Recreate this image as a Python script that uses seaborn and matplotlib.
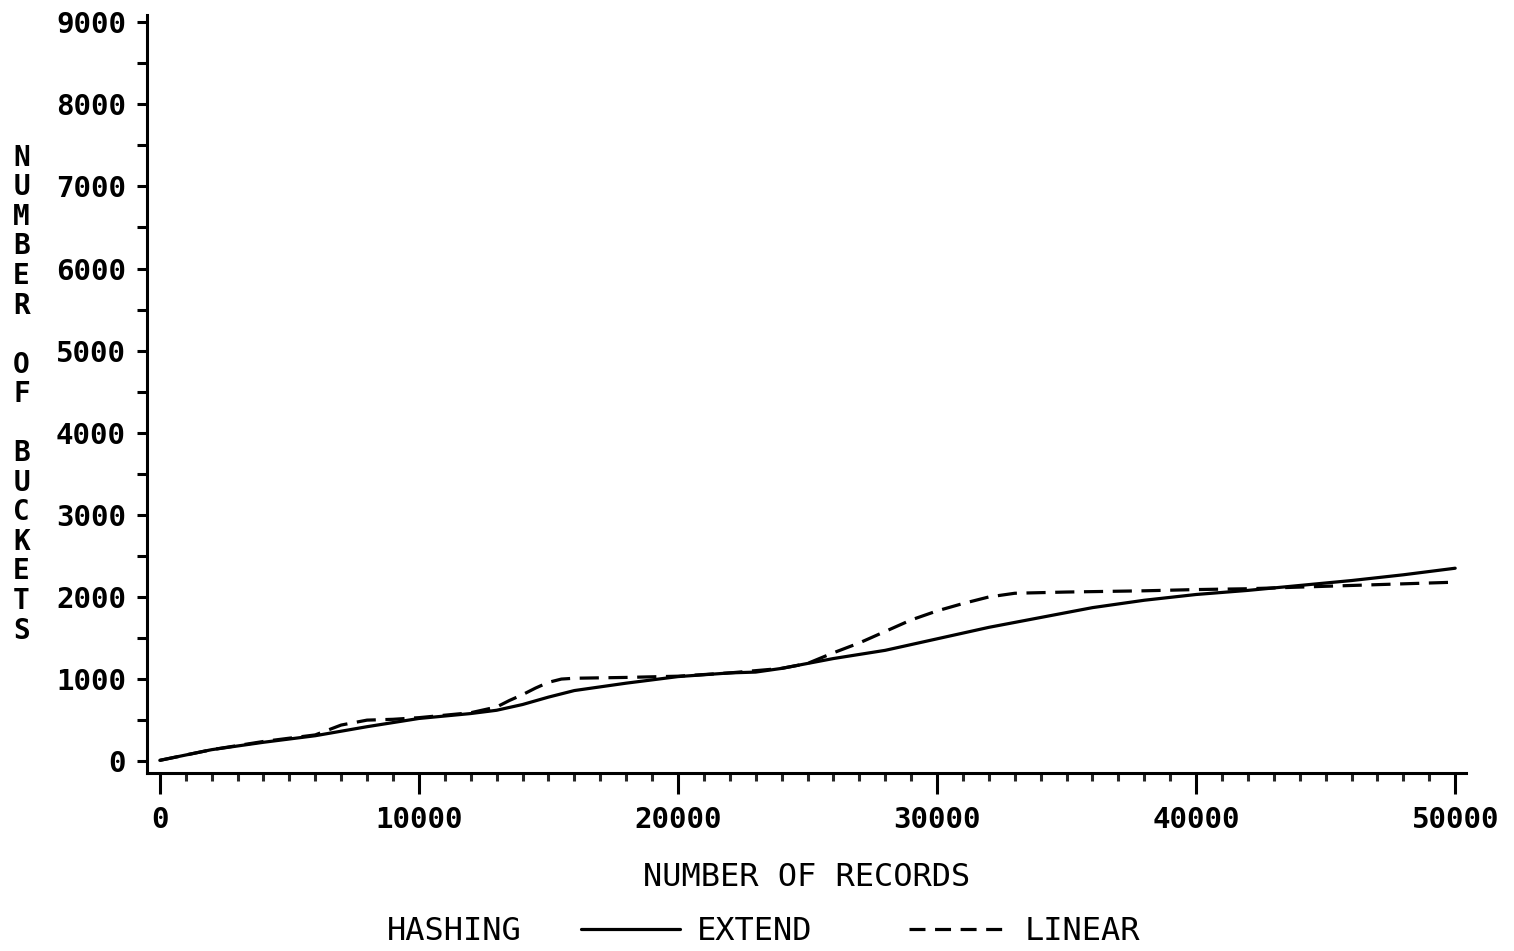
import numpy as np
import pandas as pd
import matplotlib
matplotlib.use('Agg')
import matplotlib.pyplot as plt
from matplotlib.ticker import MultipleLocator
import seaborn as sns

# Values
extend_x = [0, 2000, 4000, 6000, 8000, 10000, 12000, 13000, 14000, 15000, 16000,
            18000, 20000, 22000, 23000, 24000, 25000, 26000, 27000, 28000, 29000,
            30000, 31000, 32000, 33000, 34000, 36000, 38000, 40000, 42000, 44000,
            46000, 48000, 50000]
extend_y = [10, 140, 230, 310, 420, 520, 580, 620, 690, 780, 860,
            950, 1030, 1075, 1085, 1130, 1190, 1250, 1300, 1350, 1420,
            1490, 1560, 1630, 1690, 1750, 1870, 1960, 2030, 2080, 2140,
            2200, 2270, 2350]

linear_x = [0, 2000, 4000, 6000, 7000, 8000, 9000, 10000, 12000, 13000, 13500,
            14000, 14500, 15000, 15500, 16000, 18000, 20000, 22000, 24000, 25000,
            26000, 27000, 28000, 29000, 30000, 31000, 32000, 33000, 35000, 38000,
            40000, 42000, 44000, 46000, 48000, 50000]
linear_y = [10, 140, 240, 320, 440, 500, 510, 530, 590, 660, 740,
            810, 890, 960, 1000, 1010, 1020, 1035, 1075, 1130, 1190,
            1320, 1440, 1580, 1720, 1830, 1920, 2000, 2045, 2060, 2075,
            2090, 2100, 2120, 2140, 2160, 2180]

df = pd.concat([
    pd.DataFrame({'records': extend_x, 'buckets': extend_y, 'HASHING': 'EXTEND'}),
    pd.DataFrame({'records': linear_x, 'buckets': linear_y, 'HASHING': 'LINEAR'}),
])

sns.set_style('ticks')
plt.rcParams['font.family'] = ['DejaVu Sans Mono']
plt.rcParams['text.color'] = 'black'
plt.rcParams['axes.labelcolor'] = 'black'

fig = plt.figure(figsize=(15.14, 9.51), dpi=100)
ax = fig.add_axes([0.097, 0.187, 0.871, 0.797])

sns.lineplot(data=df, x='records', y='buckets', style='HASHING',
             dashes={'EXTEND': '', 'LINEAR': (6, 3)},
             color='black', linewidth=2.3, ax=ax, legend=False)

ax.set_xlim(-500, 50400)
ax.set_ylim(-146, 9085)
ax.xaxis.set_major_locator(MultipleLocator(10000))
ax.xaxis.set_minor_locator(MultipleLocator(1000))
ax.yaxis.set_major_locator(MultipleLocator(1000))
ax.yaxis.set_minor_locator(MultipleLocator(500))

sns.despine(ax=ax)
for s in ['left', 'bottom']:
    ax.spines[s].set_linewidth(2.2)
    ax.spines[s].set_color('black')

ax.tick_params(axis='x', which='major', length=15, width=2.2, pad=9,
               labelsize=21, colors='black')
ax.tick_params(axis='x', which='minor', length=6, width=2.2)
ax.tick_params(axis='y', which='both', length=7, width=2.2, pad=8,
               labelsize=21, colors='black')
for lab in ax.get_xticklabels() + ax.get_yticklabels():
    lab.set_fontweight('bold')

ax.set_xlabel('NUMBER OF RECORDS', fontsize=23, labelpad=20)
ax.set_ylabel('\n'.join('NUMBER OF BUCKETS'), fontsize=20, rotation=0,
              fontweight='bold', linespacing=1.07, va='center', ha='center')
ax.yaxis.set_label_coords(-0.095, 0.5)

# legend along the bottom
handles = [plt.Line2D([], [], color='black', lw=2.3),
           plt.Line2D([], [], color='black', lw=2.3, dashes=(5, 3))]
fig.text(0.30, 0.02, 'HASHING', fontsize=23, ha='center', va='center')
fig.legend(handles, ['EXTEND', 'LINEAR'], ncol=2, loc='center left',
           bbox_to_anchor=(0.365, 0.02), frameon=False, fontsize=23,
           handlelength=3.1, handletextpad=0.53, columnspacing=3.0)

fig.savefig('out.png', dpi=100, facecolor='white')
